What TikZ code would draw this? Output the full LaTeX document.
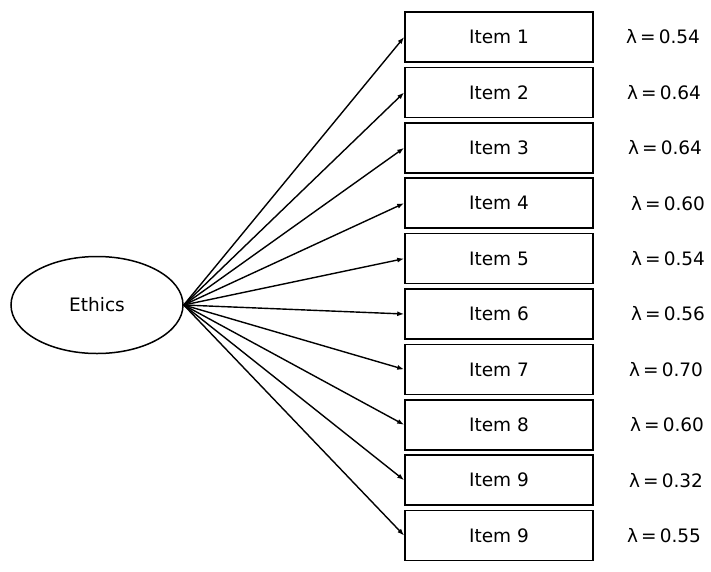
\documentclass[tikz,border=0pt]{standalone}
\usepackage{fontspec}
\setmainfont{DejaVu Sans}
\usetikzlibrary{arrows.meta,shapes.geometric}
\begin{document}
\begin{tikzpicture}[x=1pt,y=-1pt,
  itembox/.style={draw=black,line width=1.6pt,minimum width=188pt,minimum height=50pt,inner sep=0pt,font=\fontsize{18.5}{22}\selectfont},
  latent/.style={draw=black,line width=1.5pt,ellipse,minimum width=172pt,minimum height=97pt,inner sep=0pt,font=\fontsize{18.5}{22}\selectfont},
  loadlabel/.style={anchor=west,inner sep=0pt,font=\fontsize{18.5}{22}\selectfont},
  loadarrow/.style={draw=black,line width=1.4pt,-{Latex[length=7pt,width=5pt]}}]
\useasboundingbox (0,0) rectangle (711,571);
\fill[white] (0,0) rectangle (711,571);
\node[latent] (eth) at (97,305) {Ethics};
\foreach \i/\t/\l/\lx in {1/Item 1/0.54/626,2/Item 2/0.64/627,3/Item 3/0.64/628,4/Item 4/0.60/631,5/Item 5/0.54/631,6/Item 6/0.56/631,7/Item 7/0.70/629,8/Item 8/0.60/630,9/Item 9/0.32/629,10/Item 9/0.55/627}{
  \pgfmathsetmacro{\yy}{37+(\i-1)*55.4}
  \node[itembox] (it\i) at (499,\yy) {\t};
  \node[loadlabel] (lb\i) at (\lx,\yy) {λ\,=\,\l};
  \draw[loadarrow] (eth.east) -- (it\i.west);
}
\end{tikzpicture}
\end{document}
